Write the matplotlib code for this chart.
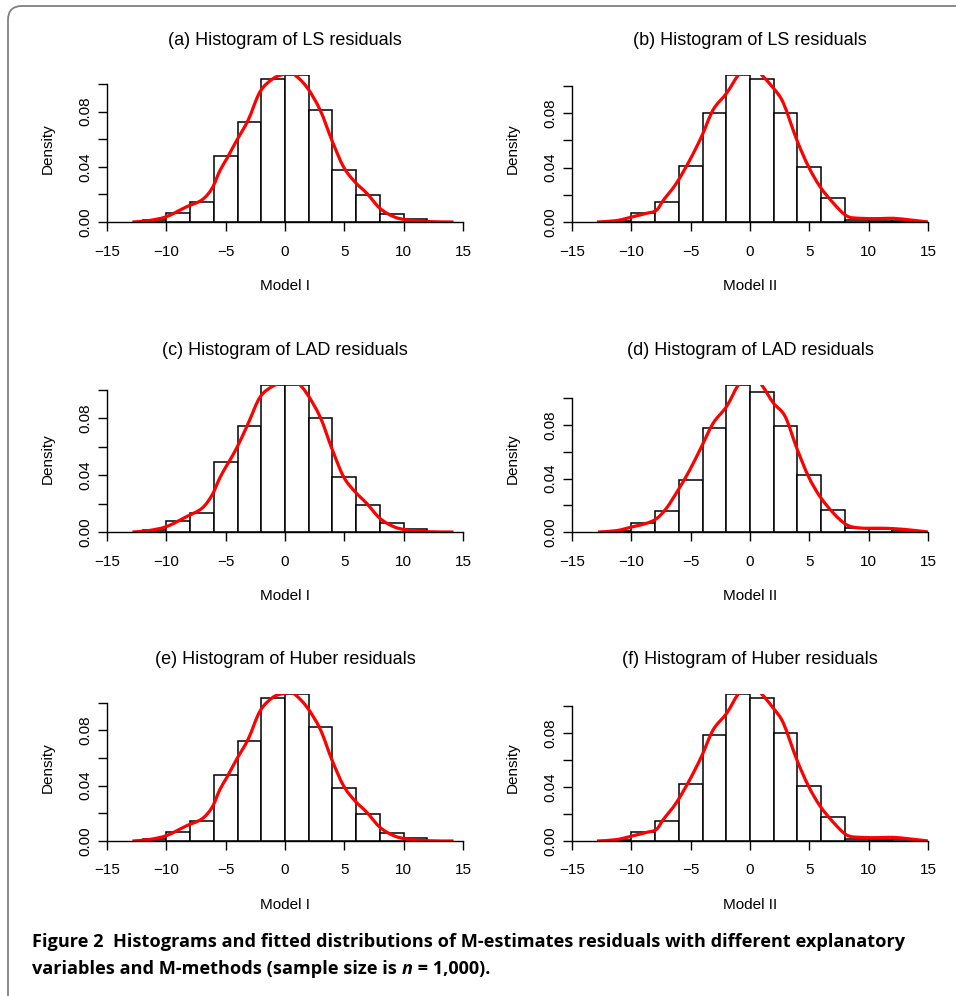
import numpy as np
import matplotlib.pyplot as plt
from matplotlib.path import Path
from matplotlib.patches import PathPatch

plt.rcParams['font.family'] = ['Liberation Sans', 'DejaVu Sans']

# bin edges (width 2) for Model I and Model II residuals
edges_I = np.arange(-12, 13, 2)
edges_II = np.arange(-12, 15, 2)

titles = ["(a) Histogram of LS residuals", "(b) Histogram of LS residuals",
          "(c) Histogram of LAD residuals", "(d) Histogram of LAD residuals",
          "(e) Histogram of Huber residuals", "(f) Histogram of Huber residuals"]
xlabels = ["Model I", "Model II", "Model I", "Model II", "Model I", "Model II"]

# histogram densities
dens_a = [0.0017, 0.0068, 0.0145, 0.0479, 0.0725, 0.104, 0.1066, 0.0815, 0.0377, 0.0196, 0.006, 0.002]
dens_b = [0.0007, 0.0069, 0.015, 0.0415, 0.080, 0.108, 0.105, 0.0802, 0.0405, 0.0177, 0.0015, 0.0005, 0.001]
dens_c = [0.0016, 0.0077, 0.0136, 0.0495, 0.0748, 0.1035, 0.1035, 0.080, 0.0385, 0.0188, 0.0061, 0.0023]
dens_d = [0.0008, 0.0065, 0.0155, 0.0388, 0.078, 0.110, 0.105, 0.079, 0.0425, 0.0163, 0.0033, 0.0025, 0.0015]
dens_e = [0.0014, 0.0065, 0.0145, 0.0475, 0.0725, 0.1034, 0.1063, 0.0824, 0.038, 0.0195, 0.006, 0.0022]
dens_f = [0.0007, 0.0069, 0.0146, 0.042, 0.0785, 0.109, 0.1057, 0.080, 0.0405, 0.0178, 0.0015, 0.0005, 0.0012]

# fitted density curves
curve_a_x = [-12.86, -11.5, -9.99, -8.3, -7.0, -6.15, -5.5, -4.9, -4.08, -3.1, -2.1, -1.0, 0.0, 0.7,
             1.83, 2.96, 3.94, 4.93, 5.9, 6.9, 8.0, 9.15, 10.27, 11.96, 14.2]
curve_a_y = [0.0, 0.001, 0.0039, 0.011, 0.016, 0.0244, 0.037, 0.046, 0.059, 0.074, 0.0945, 0.104, 0.1073, 0.1073,
             0.0979, 0.0812, 0.0595, 0.040, 0.029, 0.0208, 0.0099, 0.0039, 0.0015, 0.0003, 0.0]
curve_b_x = [-12.9, -11.26, -9.85, -8.72, -7.9, -7.3, -6.2, -5.07, -4.08, -3.1, -1.97, -0.99, 0.0, 0.99,
             1.97, 2.81, 3.94, 4.93, 5.9, 7.04, 8.16, 9.29, 10.98, 12.1, 13.5, 15.0]
curve_b_y = [0.0, 0.001, 0.0039, 0.0064, 0.0085, 0.016, 0.0285, 0.0456, 0.0628, 0.0825, 0.0947, 0.108, 0.118, 0.108,
             0.0984, 0.0874, 0.0604, 0.0407, 0.026, 0.0137, 0.0044, 0.0027, 0.0025, 0.0027, 0.0015, 0.0]
curve_c_x = [-12.86, -11.5, -9.99, -8.3, -7.0, -6.15, -5.5, -4.9, -4.08, -3.1, -2.1, -1.0, 0.0, 1.0,
             1.83, 2.96, 3.94, 4.93, 5.9, 6.9, 8.0, 9.15, 10.27, 11.96, 14.2]
curve_c_y = [0.0, 0.001, 0.0038, 0.0108, 0.0167, 0.026, 0.038, 0.047, 0.059, 0.0765, 0.095, 0.1028, 0.105, 0.105,
             0.0976, 0.081, 0.059, 0.039, 0.0284, 0.020, 0.0096, 0.0038, 0.0014, 0.0002, 0.0]
curve_d_x = [-12.8, -11.26, -9.85, -8.72, -7.88, -7.04, -6.05, -5.07, -4.08, -3.1, -1.97, -0.99, 0.0, 0.99,
             1.97, 2.96, 3.94, 4.93, 5.9, 7.04, 8.16, 9.29, 10.98, 12.1, 13.5, 15.0]
curve_d_y = [0.0, 0.001, 0.004, 0.0065, 0.010, 0.0178, 0.0315, 0.0465, 0.064, 0.0815, 0.094, 0.110, 0.12, 0.110,
             0.0965, 0.0865, 0.0628, 0.0415, 0.0265, 0.014, 0.0053, 0.003, 0.0028, 0.0025, 0.0015, 0.0]
curve_e_x = [-12.86, -11.5, -9.99, -8.3, -7.0, -6.15, -5.5, -4.9, -4.08, -3.1, -2.1, -1.0, 0.0, 0.7,
             1.83, 2.96, 3.94, 4.93, 5.9, 6.9, 8.0, 9.15, 10.27, 11.96, 14.2]
curve_e_y = [0.0, 0.001, 0.0039, 0.011, 0.016, 0.0243, 0.037, 0.046, 0.059, 0.0737, 0.094, 0.104, 0.1068, 0.1068,
             0.097, 0.081, 0.059, 0.040, 0.029, 0.0207, 0.0099, 0.0039, 0.0014, 0.0002, 0.0]
curve_f_x = [-12.9, -11.26, -9.85, -8.72, -7.9, -7.3, -6.2, -5.07, -4.08, -3.1, -1.97, -0.99, 0.0, 0.99,
             1.97, 2.81, 3.94, 4.93, 5.9, 7.04, 8.16, 9.29, 10.98, 12.1, 13.5, 15.0]
curve_f_y = [0.0, 0.001, 0.0039, 0.0064, 0.0085, 0.016, 0.0285, 0.0456, 0.0628, 0.0825, 0.0947, 0.109, 0.118, 0.109,
             0.0984, 0.0874, 0.0604, 0.0407, 0.026, 0.0137, 0.0044, 0.0027, 0.0025, 0.0027, 0.0015, 0.0]

dens = [dens_a, dens_b, dens_c, dens_d, dens_e, dens_f]
curves = [(curve_a_x, curve_a_y), (curve_b_x, curve_b_y), (curve_c_x, curve_c_y),
          (curve_d_x, curve_d_y), (curve_e_x, curve_e_y), (curve_f_x, curve_f_y)]


def smooth_path(xs, ys):
    # Catmull-Rom curve through the read points, drawn as cubic Bezier segments
    p = np.column_stack([xs, ys])
    p = np.vstack([p[0], p, p[-1]])
    verts = [p[1]]
    codes = [Path.MOVETO]
    for k in range(1, len(p) - 2):
        c1 = p[k] + (p[k + 1] - p[k - 1]) / 6
        c2 = p[k + 1] - (p[k + 2] - p[k]) / 6
        verts += [c1, c2, p[k + 1]]
        codes += [Path.CURVE4] * 3
    return Path(verts, codes)


W, H = 956, 996
fig = plt.figure(figsize=(W / 100, H / 100), dpi=100)

lefts = [107, 572]
tops = [75, 385, 694]
bottoms = [222, 532, 841]
fs = 11

for i in range(6):
    r, c = divmod(i, 2)
    ax = fig.add_axes([lefts[c] / W, 1 - bottoms[r] / H, 356 / W, (bottoms[r] - tops[r]) / H])
    edges = edges_I if c == 0 else edges_II
    ax.bar(edges[:-1], dens[i], width=2, align='edge', color='white',
           edgecolor='black', linewidth=1.1)
    ax.add_patch(PathPatch(smooth_path(*curves[i]), facecolor='none', edgecolor='red', lw=2.3))
    ax.set_xlim(-15, 15)
    ax.set_ylim(0, max(dens[i]))
    for s in ['top', 'right']:
        ax.spines[s].set_visible(False)
    ax.spines['left'].set_bounds(0, 0.10)
    ax.spines['left'].set_linewidth(1.0)
    ax.spines['bottom'].set_linewidth(1.0)
    ax.set_xticks([-15, -10, -5, 0, 5, 10, 15])
    ax.set_yticks(np.arange(0, 0.101, 0.02))
    ax.set_yticklabels(['0.00', '', '0.04', '', '0.08', ''], rotation=90, va='center')
    ax.tick_params(axis='both', length=6.2, width=1.0, labelsize=fs)
    ax.tick_params(axis='x', pad=10)
    ax.tick_params(axis='y', pad=4)
    ax.set_xlabel(xlabels[i], fontsize=fs, labelpad=15)
    ax.set_ylabel("Density", fontsize=fs, labelpad=17)
    ax.set_title(titles[i], fontsize=13, pad=21.5)

# frame around the figure (top + left with rounded corner)
to_in = lambda x, y: (x / 100, (H - y) / 100)
verts = [to_in(8, 996), to_in(8, 20), to_in(8, 6), to_in(22, 6), to_in(956, 6)]
codes = [Path.MOVETO, Path.LINETO, Path.CURVE3, Path.CURVE3, Path.LINETO]
frame = PathPatch(Path(verts, codes), facecolor='none', edgecolor='#808080', lw=1.3,
                  transform=fig.dpi_scale_trans)
fig.add_artist(frame)

# caption
cap_font = ['Open Sans', 'DejaVu Sans']
line1 = fig.text(32 / W, 1 - 947 / H, "Figure 2  Histograms and fitted distributions of M-estimates residuals "
                 "with different explanatory", fontsize=12, fontweight='bold', va='baseline',
                 family=cap_font)
fig.canvas.draw()
cap_size = 12 * 871 / line1.get_window_extent().width
line1.set_fontsize(cap_size)
t1 = fig.text(32 / W, 1 - 974 / H, "variables and M-methods (sample size is ",
              fontsize=cap_size, fontweight='bold', va='baseline', family=cap_font)
fig.canvas.draw()
bb = t1.get_window_extent()
t2 = fig.text(bb.x1 / W, 1 - 974 / H, "n", fontsize=cap_size, fontweight='bold',
              fontstyle='italic', va='baseline', family=cap_font)
fig.canvas.draw()
bb = t2.get_window_extent()
fig.text(bb.x1 / W, 1 - 974 / H, " = 1,000).", fontsize=cap_size, fontweight='bold',
         va='baseline', family=cap_font)

fig.savefig("out.png", dpi=100)
